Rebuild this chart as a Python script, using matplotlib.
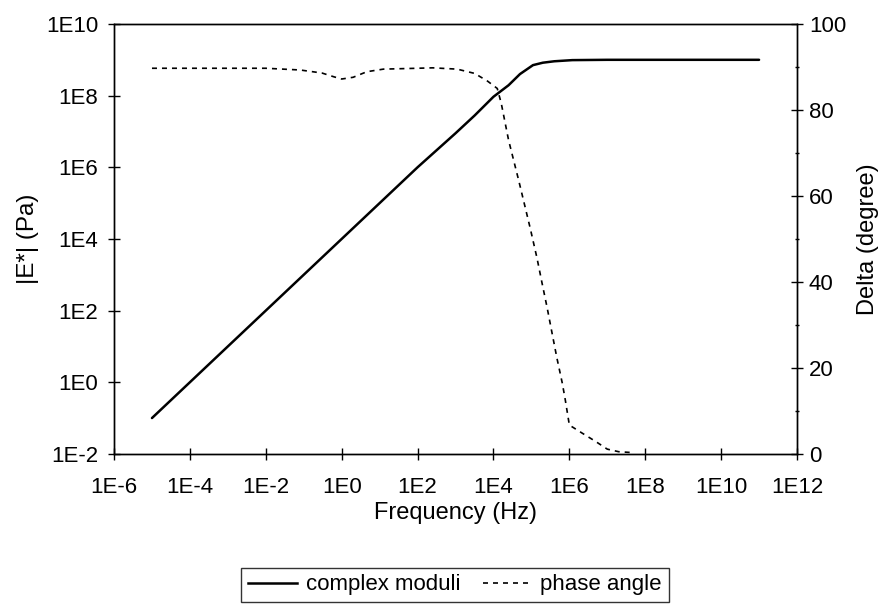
import matplotlib
matplotlib.use("Agg")
import matplotlib.pyplot as plt
from matplotlib.ticker import FixedLocator, FixedFormatter, MultipleLocator, NullLocator
from matplotlib.lines import Line2D

plt.rcParams['font.family'] = ['Liberation Sans', 'DejaVu Sans']

# ---- data ----
mod_freq = [1e-5, 1e-4, 1e-3, 1e-2, 1e-1, 1e0, 1e1, 1e2, 1e3, 3.2e3, 1e4, 2.5e4,
            5e4, 1.1e5, 2e5, 4e5, 1.2e6, 1e7, 1e8, 1e9, 1e10, 1e11]
mod_E = [0.1, 1, 10, 100, 1e3, 1e4, 1e5, 1e6, 8.9e6, 2.8e7, 9.3e7, 1.95e8,
         4e8, 7.1e8, 8.3e8, 9.1e8, 9.8e8, 1e9, 1e9, 1e9, 1e9, 1e9]

ph_freq = [1e-5, 1e-4, 1e-3, 1e-2, 8e-2, 0.3, 0.63, 1.0, 2.0, 4.6, 12.6, 100, 250,
           1.1e3, 3.2e3, 7e3, 1.26e4, 1.6e4, 2.5e4, 4.6e4, 9.3e4, 1.4e5, 1.9e5,
           2.6e5, 3.5e5, 4.7e5, 6.5e5, 7.8e5, 1e6, 2.2e6, 4.9e6, 1e7, 2e7, 4.6e7]
ph_delta = [89.7, 89.7, 89.7, 89.7, 89.3, 88.6, 87.7, 87.2, 87.6, 88.9, 89.5, 89.7,
            89.8, 89.5, 88.5, 86.7, 85.0, 81.6, 73.0, 63.7, 52.5, 45.6, 39.8, 34.0,
            28.1, 22.3, 16.5, 12.6, 6.7, 4.8, 2.9, 1.1, 0.5, 0.3]

xticks = [1e-6, 1e-4, 1e-2, 1e0, 1e2, 1e4, 1e6, 1e8, 1e10, 1e12]
xtick_labels = ['1E-6', '1E-4', '1E-2', '1E0', '1E2', '1E4', '1E6', '1E8', '1E10', '1E12']
yticks = [1e-2, 1e0, 1e2, 1e4, 1e6, 1e8, 1e10]
ytick_labels = ['1E-2', '1E0', '1E2', '1E4', '1E6', '1E8', '1E10']
y2ticks = [0, 20, 40, 60, 80, 100]

fig = plt.figure(figsize=(8.93, 6.15), dpi=100)
ax = fig.add_axes([0.1277, 0.262, 0.7648, 0.699])
ax2 = ax.twinx()

ax.plot(mod_freq, mod_E, color='black', lw=1.8, solid_capstyle='round')
ax2.plot(ph_freq, ph_delta, color='black', lw=1.2, linestyle=(0, (3, 3)))

ax.set_xscale('log')
ax.set_yscale('log')
ax.set_xlim(1e-6, 1e12)
ax.set_ylim(1e-2, 1e10)
ax2.set_ylim(0, 100)

ax.xaxis.set_major_locator(FixedLocator(xticks))
ax.xaxis.set_major_formatter(FixedFormatter(xtick_labels))
ax.xaxis.set_minor_locator(NullLocator())
ax.yaxis.set_major_locator(FixedLocator(yticks))
ax.yaxis.set_major_formatter(FixedFormatter(ytick_labels))
ax.yaxis.set_minor_locator(NullLocator())
ax2.yaxis.set_major_locator(FixedLocator(y2ticks))
ax2.yaxis.set_minor_locator(MultipleLocator(10))

for a in (ax, ax2):
    for s in a.spines.values():
        s.set_linewidth(1.0)
        s.set_color('black')

ax.tick_params(axis='both', which='major', direction='inout', length=9, width=1,
               labelsize=16)
ax.tick_params(axis='x', pad=12)
ax.tick_params(axis='y', pad=7)
ax2.tick_params(axis='y', which='major', direction='inout', length=9, width=1,
                labelsize=16, pad=4)
ax2.tick_params(axis='y', which='minor', direction='inout', length=3, width=1)

ax.set_xlabel('Frequency (Hz)', fontsize=17, labelpad=3)
ax.set_ylabel('|E*| (Pa)', fontsize=17.5, labelpad=5)
ax2.set_ylabel('Delta (degree)', fontsize=17, labelpad=8)

handles = [Line2D([], [], color='black', lw=1.8),
           Line2D([], [], color='black', lw=1.2, linestyle=(0, (3, 3)))]
leg = fig.legend(handles, ['complex moduli', 'phase angle'], ncol=2,
                 loc='center', bbox_to_anchor=(0.5095, 0.049), fontsize=16,
                 frameon=True, fancybox=False, edgecolor='black',
                 handlelength=2.2, handletextpad=0.4, columnspacing=1.0,
                 borderpad=0.3, borderaxespad=0)
leg.get_frame().set_linewidth(1.0)

fig.savefig('out.png', dpi=100)
